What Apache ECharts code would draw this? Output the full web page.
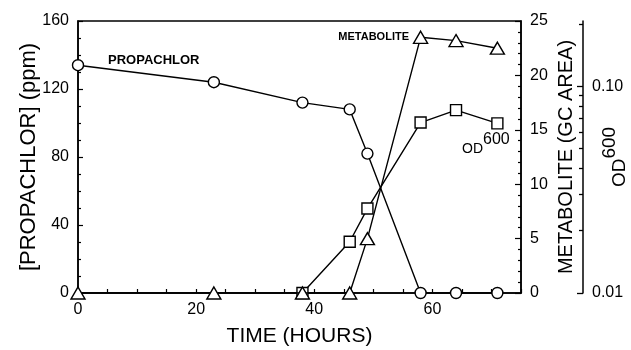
<!DOCTYPE html>
<html><head><meta charset="utf-8">
<script src="https://cdn.jsdelivr.net/npm/echarts@6/dist/echarts.min.js"></script>
<style>html,body{margin:0;padding:0;background:#fff}#c{width:631px;height:350px}</style>
</head><body><div id="c"></div>
<script>
// Time points (hours)
const hours = [0, 23, 38, 46, 49, 58, 64, 71];
// Propachlor concentration (ppm), left axis
const propachlor = [134, 124, 112, 108, 82, 0, 0, 0];
// Metabolite (GC area), right axis
const metabolite = [0, 0, 0, 0, 5, 23.5, 23.2, 22.5];
// OD600 (log axis); no reading before 38 h
const od600 = [null, null, 0.01, 0.0177, 0.0256, 0.0667, 0.0766, 0.0661];
// tick labels
const xTicks = [0, 20, 40, 60];
const leftTicks = [0, 40, 80, 120, 160];
const metTicks = [0, 5, 10, 15, 20, 25];
const odLabelTicks = [0.01, 0.1];

const FONT = 'Liberation Sans';
const pair = (arr) => hours.map((h, i) => [h, arr[i]]);
const symStyle = {color: '#fff', borderColor: '#000', borderWidth: 1.4};

const chart = echarts.init(document.getElementById('c'), null, {renderer: 'canvas'});
chart.setOption({
  animation: false,
  backgroundColor: '#fff',
  textStyle: {fontFamily: FONT, color: '#000'},
  grid: {left: 78, right: 110, top: 21, bottom: 57, show: true, borderColor: '#000', borderWidth: 1.5, outerBoundsMode: 'none', containLabel: false},
  xAxis: {
    type: 'value', min: 0, max: 75, interval: 5,
    name: 'TIME (HOURS)', nameLocation: 'middle', nameGap: 33, nameMoveOverlap: false,
    nameTextStyle: {fontSize: 21, fontFamily: FONT, color: '#000'},
    axisLine: {lineStyle: {color: '#000', width: 1.5}},
    axisTick: {inside: true, length: 4, lineStyle: {color: '#000', width: 1.2}},
    axisLabel: {margin: 9, fontSize: 16, color: '#000', fontFamily: FONT,
      formatter: v => xTicks.includes(v) ? String(v) : ''},
    splitLine: {show: false}
  },
  yAxis: [
    {
      type: 'value', min: 0, max: 160, interval: 40, position: 'left',
      name: '[PROPACHLOR] (ppm)', nameLocation: 'middle', nameGap: 38, nameRotate: 90, nameMoveOverlap: false,
      nameTextStyle: {fontSize: 22, fontFamily: FONT, color: '#000'},
      axisLine: {show: true, lineStyle: {color: '#000', width: 1.5}},
      axisTick: {inside: true, length: 5, lineStyle: {color: '#000', width: 1.2}},
      minorTick: {show: true, splitNumber: 4, length: 3, lineStyle: {color: '#000', width: 1.2}},
      axisLabel: {margin: 9, fontSize: 16, color: '#000', fontFamily: FONT,
        formatter: v => leftTicks.includes(v) ? String(v) : ''},
      splitLine: {show: false}
    },
    {
      type: 'value', min: 0, max: 25, interval: 5, position: 'right',
      name: 'METABOLITE (GC AREA)', nameLocation: 'middle', nameGap: 35, nameRotate: 90, nameMoveOverlap: false,
      nameTextStyle: {fontSize: 20, fontFamily: FONT, color: '#000'},
      axisLine: {show: true, lineStyle: {color: '#000', width: 1.5}},
      axisTick: {inside: true, length: 6, lineStyle: {color: '#000', width: 1.2}},
      minorTick: {show: true, splitNumber: 5, length: 3, lineStyle: {color: '#000', width: 1.2}},
      axisLabel: {margin: 9, fontSize: 16, color: '#000', fontFamily: FONT,
        formatter: v => metTicks.includes(v) ? String(v) : ''},
      splitLine: {show: false}
    },
    {
      type: 'log', logBase: 10, min: 0.01, max: 0.2066, position: 'right', offset: 62,
      name: '{a|OD}{b|600}', nameLocation: 'middle', nameGap: 17, nameRotate: 90, nameMoveOverlap: false,
      nameTextStyle: {fontFamily: FONT, color: '#000', fontSize: 19,
        rich: {a: {fontSize: 19, fontFamily: FONT, color: '#000', padding: [10, 0, 0, 0]},
               b: {fontSize: 19, fontFamily: FONT, color: '#000', padding: [0, 0, 10, 0]}}},
      axisLine: {show: true, lineStyle: {color: '#000', width: 1.5}},
      axisTick: {show: true, inside: true, length: 6, customValues: odLabelTicks, lineStyle: {color: '#000', width: 1.3}},
      minorTick: {show: true, splitNumber: 9, length: 4, lineStyle: {color: '#000', width: 1.3}},
      axisLabel: {margin: 9, fontSize: 16, color: '#000', fontFamily: FONT, customValues: odLabelTicks,
        formatter: v => Number(v).toFixed(2)},
      splitLine: {show: false}
    }
  ],
  graphic: [
    {type: 'text', x: 108, y: 60, style: {text: 'PROPACHLOR', font: 'bold 13px "Liberation Sans"', fill: '#000', verticalAlign: 'middle', align: 'left'}},
    {type: 'text', x: 409, y: 36.5, style: {text: 'METABOLITE', font: 'bold 11px "Liberation Sans"', fill: '#000', verticalAlign: 'middle', align: 'right'}},
    {type: 'text', x: 462, y: 149, style: {text: 'OD', font: '14px "Liberation Sans"', fill: '#000', verticalAlign: 'middle', align: 'left'}},
    {type: 'text', x: 483, y: 139.5, style: {text: '600', font: '16px "Liberation Sans"', fill: '#000', verticalAlign: 'middle', align: 'left'}}
  ],
  series: [
    {
      name: 'Propachlor', type: 'line', yAxisIndex: 0, data: pair(propachlor),
      symbol: 'circle', symbolSize: 11, itemStyle: symStyle,
      lineStyle: {color: '#000', width: 1.4}, z: 3
    },
    {
      name: 'Metabolite', type: 'line', yAxisIndex: 1, data: pair(metabolite),
      symbol: 'triangle', symbolSize: [14, 12], itemStyle: symStyle,
      lineStyle: {color: '#000', width: 1.4}, z: 4
    },
    {
      name: 'OD600', type: 'line', yAxisIndex: 2, data: pair(od600),
      symbol: 'rect', symbolSize: 11, itemStyle: symStyle, connectNulls: false,
      lineStyle: {color: '#000', width: 1.4}, z: 3
    }
  ]
});
</script></body></html>
